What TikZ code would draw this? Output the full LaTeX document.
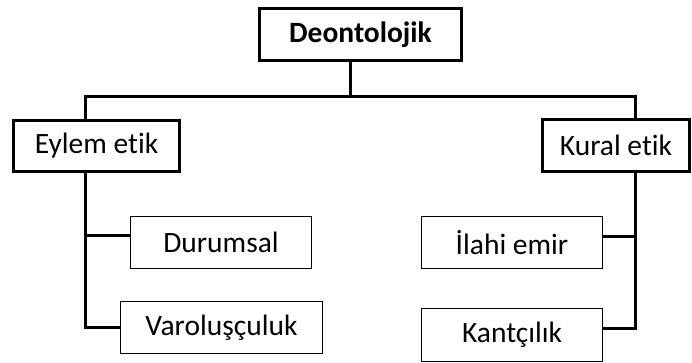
\documentclass[tikz,border=0pt]{standalone}
\usepackage{fontspec}
\setmainfont{Carlito}[Ligatures={NoCommon}]
\usepackage{tikz}

\begin{document}
\begin{tikzpicture}[x=1pt, y=-1pt,
  every node/.style={inner sep=0pt, outer sep=0pt, font=\fontsize{29.5}{35}\selectfont},
  mainbox/.style={draw, line width=3pt},
  subbox/.style={draw, line width=1.3pt},
  conn/.style={line width=3pt}]
\useasboundingbox (0,0) rectangle (692,363);

\node[mainbox, minimum width=202pt, minimum height=52pt] (deon) at (360.5,34.5) {\textbf{Deontolojik}};
\node[mainbox, minimum width=166pt, minimum height=51pt] (eylem) at (96.5,146) {Eylem etik};
\node[mainbox, minimum width=147pt, minimum height=52pt] (kural) at (616,145.5) {Kural etik};
\node[subbox, minimum width=180.7pt, minimum height=51.7pt] (durumsal) at (221,242.5) {Durumsal};
\node[subbox, minimum width=201.7pt, minimum height=51.7pt] (varol) at (221.5,327.5) {Varoluşçuluk};
\node[subbox, minimum width=180.7pt, minimum height=51.7pt] (ilahi) at (512,242.5) {İlahi emir};
\node[subbox, minimum width=180.7pt, minimum height=52.7pt] (kant) at (512,335) {Kantçılık};

\coordinate (split) at (350,97);
\coordinate (leftbar) at (85,97);
\coordinate (rightbar) at (635,97);

\draw[conn] (deon.south -| split) -- (split);
\draw[conn] (eylem.north -| leftbar) -- (leftbar) -- (rightbar) -- (kural.north -| rightbar);
\draw[conn] (eylem.south -| leftbar) |- (varol.west);
\draw[conn] ([yshift=7.5pt]durumsal.west) -- ([yshift=7.5pt]durumsal.west -| leftbar);
\draw[conn] (kural.south -| rightbar) |- ([yshift=7pt]kant.east);
\draw[conn] ([yshift=6.5pt]ilahi.east) -- ([yshift=6.5pt]ilahi.east -| rightbar);
\end{tikzpicture}
\end{document}
